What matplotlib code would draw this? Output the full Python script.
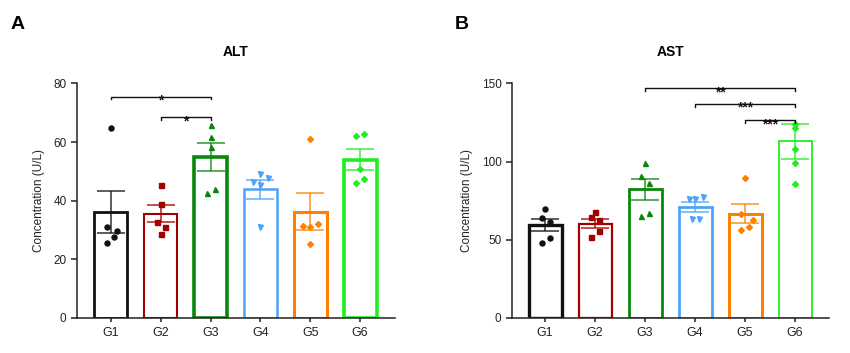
import matplotlib
matplotlib.use("Agg")
import matplotlib.pyplot as plt

plt.rcParams['font.family'] = ['Liberation Sans', 'DejaVu Sans']

groups = ["G1", "G2", "G3", "G4", "G5", "G6"]
colors = ["#111111", "#a30000", "#0a870a", "#4fa3f7", "#ff8000", "#1fee1f"]
markers = ["o", "s", "^", "v", "D", "D"]

# ALT values
alt_mean = [36.1, 35.6, 55.0, 43.9, 36.2, 54.0]
alt_sem = [7.1, 3.0, 4.7, 3.2, 6.3, 3.5]
alt_points = [
    [64.8, 31.0, 29.7, 27.6, 25.5],
    [45.5, 38.9, 32.9, 31.2, 28.5],
    [65.8, 61.9, 58.5, 43.9, 42.8],
    [49.1, 46.4, 47.7, 45.5, 31.1],
    [60.9, 31.4, 31.0, 32.1, 25.3],
    [62.2, 62.6, 50.8, 47.5, 46.1],
]
alt_jitter = [
    [0, -0.07, 0.13, 0.07, -0.07],
    [0, 0, -0.08, 0.08, 0],
    [0, 0, 0, 0.08, -0.07],
    [0, -0.15, 0.15, 0, 0],
    [0, -0.15, 0, 0.15, 0],
    [-0.08, 0.07, 0, 0.07, -0.08],
]
alt_sig = [(0, 2, 75.5, "*"), (1, 2, 68.4, "*")]

# AST values
ast_mean = [59.4, 60.4, 82.3, 70.9, 66.8, 113.0]
ast_sem = [3.75, 3.1, 6.6, 3.05, 6.1, 11.0]
ast_points = [
    [69.4, 63.8, 61.7, 51.3, 48.1],
    [67.7, 64.3, 62.8, 55.7, 51.5],
    [99.1, 90.9, 86.6, 67.4, 65.3],
    [77.7, 76.4, 76.0, 63.2, 63.2],
    [89.6, 66.2, 62.8, 58.5, 56.4],
    [124.0, 121.5, 108.0, 99.0, 85.5],
]
ast_jitter = [
    [0, -0.07, 0.09, 0.09, -0.07],
    [0, -0.08, 0.08, 0.08, -0.08],
    [0, -0.08, 0.08, 0.08, -0.08],
    [0.15, -0.13, 0, -0.07, 0.08],
    [0, -0.08, 0.15, 0.07, -0.08],
    [0, 0, 0, 0, 0],
]
ast_sig = [(2, 5, 146.8, "**"), (3, 5, 137.0, "***"), (4, 5, 126.6, "***")]


def draw_panel(ax, title, mean, sem, points, jitter, sig, ymax, ystep, lws):
    x = range(len(groups))
    for i in x:
        ax.bar(i, mean[i], width=0.66, facecolor="white", edgecolor=colors[i],
               linewidth=lws[i], zorder=2)
        ax.errorbar(i, mean[i], yerr=sem[i], color=colors[i], capsize=10,
                    elinewidth=1.2, capthick=1.2, zorder=3, alpha=0.8)
        xs = [i + j for j in jitter[i]]
        ax.plot(xs, points[i], linestyle="none", marker=markers[i],
                color=colors[i], markersize=3.6 if markers[i] != "D" else 3.0,
                zorder=4)
    for a, b, y, stars in sig:
        h = ymax * 0.012
        ax.plot([a, a, b, b], [y - h, y, y, y - h], color="#111111", lw=1.0,
                clip_on=False, zorder=5)
        # asterisks sit on the bracket line
        ax.annotate(stars, xy=((a + b) / 2, y), xytext=(0, -5.8),
                    textcoords="offset points", ha="center", va="baseline",
                    fontsize=10, fontweight="bold", color="#111111",
                    annotation_clip=False)
    ax.set_xlim(-0.68, 5.7)
    ax.set_ylim(0, ymax)
    ax.set_yticks(range(0, ymax + 1, ystep))
    ax.set_xticks(list(x))
    ax.set_xticklabels(groups)
    ax.spines["top"].set_visible(False)
    ax.spines["right"].set_visible(False)
    for s in ["left", "bottom"]:
        ax.spines[s].set_linewidth(1.1)
        ax.spines[s].set_color("#222222")
    ax.tick_params(axis="y", length=4, width=1.1, labelsize=8.5,
                   colors="#222222")
    ax.tick_params(axis="x", length=3, width=1.1, labelsize=9,
                   colors="#222222")
    ax.set_ylabel("Concentration (U/L)", fontsize=8.5, color="#222222")
    ax.set_title(title, fontsize=10, fontweight="bold", pad=20)


fig = plt.figure(figsize=(8.5, 3.53), dpi=100)
ax1 = fig.add_axes([0.0906, 0.0992, 0.3741, 0.6643])
ax2 = fig.add_axes([0.6024, 0.0992, 0.3729, 0.6643])

draw_panel(ax1, "ALT", alt_mean, alt_sem, alt_points, alt_jitter, alt_sig,
           80, 20, [2.0, 1.5, 2.6, 1.8, 2.2, 2.6])
draw_panel(ax2, "AST", ast_mean, ast_sem, ast_points, ast_jitter, ast_sig,
           150, 50, [2.4, 1.6, 2.0, 2.0, 2.2, 1.3])
ax1.yaxis.set_label_coords(-0.10, 0.5)
ax2.yaxis.set_label_coords(-0.123, 0.5)
ax2.set_xlim(-0.66, 5.68)

fig.text(0.012, 0.93, "A", fontsize=14, fontweight="bold", va="center")
fig.text(0.535, 0.93, "B", fontsize=14, fontweight="bold", va="center")

plt.savefig("out.png", dpi=100)
